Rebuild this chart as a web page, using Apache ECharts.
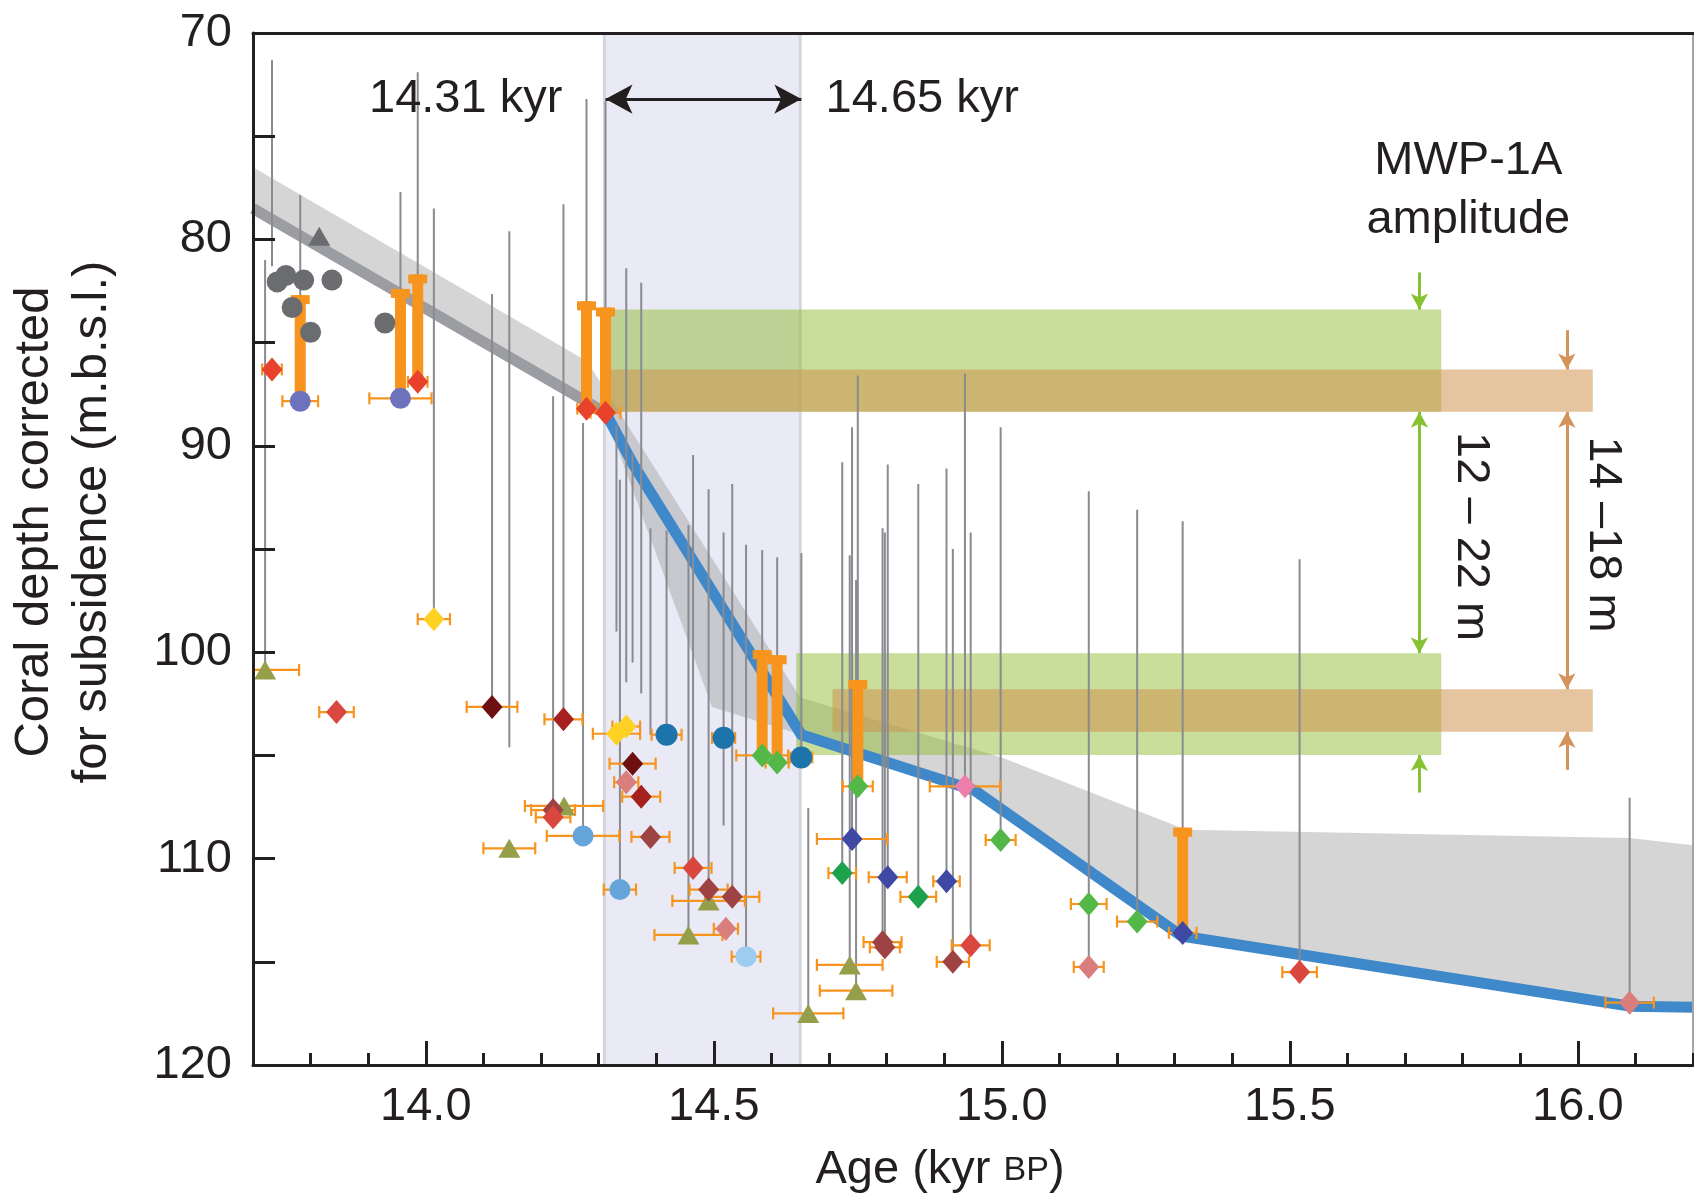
<!DOCTYPE html>
<html>
<head>
<meta charset="utf-8">
<script src="https://cdn.jsdelivr.net/npm/echarts@6/dist/echarts.min.js"></script>
<style>
  html, body { margin: 0; padding: 0; background: #fff; }
  #chart { width: 1694px; height: 1196px; }
</style>
</head>
<body>
<div id="chart"></div>
<script>
// ---- data (age in kyr BP, depth in m) ----
const xMajorTicks = [14.0, 14.5, 15.0, 15.5, 16.0];
const yTickLabels = [70, 80, 90, 100, 110, 120];

const shadeWindow = [[14.31, 14.65]];

// MWP-1A amplitude bands [x0, x1, yTop, yBottom]
const greenBands = [[14.32, 15.763, 83.4, 88.35], [14.643, 15.763, 100.05, 104.98]];
const tanBands = [[14.32, 16.026, 86.3, 88.35], [14.706, 16.026, 101.8, 103.85]];

// uncertainty envelope of the sea-level curve
const envelope = [
  [13.7, 76.5], [14.28, 85.9], [14.65, 102.2], [15.0, 105.1], [15.32, 108.6],
  [16.09, 109.0], [16.2, 109.35], [16.2, 117.2], [16.09, 117.15], [15.312, 113.75],
  [14.953, 106.7], [14.652, 104.0], [14.497, 102.65], [14.33, 89.9], [14.312, 88.4], [13.7, 78.5]
];
const grayCurve = [[13.7, 78.5], [14.312, 88.4]];
const blueCurve = [[14.312, 88.4], [14.36, 90.9], [14.652, 104.0], [14.953, 106.7],
  [15.312, 113.75], [16.09, 117.15], [16.2, 117.2]];

// palaeo water-depth ranges [x, yTop, yBottom]
const depthLines = [
  [13.721, 81.0, 100.86], [13.733, 71.3, 81.3], [13.782, 77.85, 87.84], [13.956, 77.7, 87.7],
  [13.986, 71.9, 86.9], [14.014, 78.5, 98.4], [14.115, 82.65, 102.65], [14.145, 79.6, 104.6],
  [14.221, 87.6, 107.65], [14.239, 78.3, 103.25], [14.273, 88.9, 108.9], [14.279, 73.2, 88.2],
  [14.312, 73.3, 88.4], [14.331, 89.0, 99.0], [14.337, 91.65, 111.5], [14.348, 81.4, 101.45],
  [14.359, 90.35, 100.5], [14.374, 82.1, 102.0], [14.39, 94.0, 104.0], [14.418, 94.1, 104.0],
  [14.456, 93.85, 113.7], [14.464, 90.45, 110.45], [14.491, 92.1, 111.5], [14.517, 94.2, 108.4],
  [14.532, 91.85, 111.85], [14.556, 94.8, 114.75], [14.584, 95.05, 105.0], [14.61, 95.4, 105.35],
  [14.652, 95.2, 105.1], [14.664, 107.55, 117.5], [14.723, 90.8, 110.7], [14.736, 95.3, 115.15],
  [14.74, 89.1, 109.05], [14.747, 96.5, 116.4], [14.75, 86.6, 106.5], [14.793, 94.0, 114.05],
  [14.797, 94.2, 114.3], [14.802, 90.9, 110.9], [14.855, 91.85, 111.85], [14.904, 91.1, 111.1],
  [14.915, 95.0, 115.0], [14.936, 86.5, 106.5], [14.946, 94.2, 114.2], [14.998, 89.1, 109.1],
  [15.151, 92.2, 115.25], [15.235, 93.1, 113.05], [15.314, 93.65, 113.6], [15.517, 95.5, 115.5],
  [16.09, 107.05, 116.98]
];

// orange depth-range bars [x, yTop, yBottom]
const rangeBars = [
  [13.782, 82.7, 87.84], [13.956, 82.4, 87.7], [13.986, 81.7, 86.9], [14.279, 83.0, 88.2],
  [14.312, 83.3, 88.4], [14.584, 99.9, 105.0], [14.61, 100.15, 105.35], [14.75, 101.35, 106.5],
  [15.314, 108.5, 113.6]
];

// samples [age, depth, age error]
const grayCircles = [[13.742, 82.06], [13.757, 81.75], [13.788, 81.97], [13.837, 81.97], [13.768, 83.3], [13.80, 84.5], [13.929, 84.05]];
const grayTriangles = [[13.815, 79.85]];
const periwinkleCircles = [[13.782, 87.84, 0.031], [13.956, 87.7, 0.054]];
const brightRedDiamonds = [[13.733, 86.3, 0.017], [13.986, 86.9, 0.017], [14.279, 88.2, 0.016], [14.312, 88.4, 0.026]];
const redDiamonds = [[13.845, 102.9, 0.03], [14.221, 108.0, 0.03], [14.464, 110.45, 0.032], [14.946, 114.2, 0.033], [15.517, 115.5, 0.03]];
const darkRedDiamonds = [[14.239, 103.25, 0.033], [14.374, 107.0, 0.033]];
const darkMaroonDiamonds = [[14.115, 102.65, 0.044], [14.359, 105.4, 0.04]];
const maroonDiamonds = [[14.221, 107.65, 0.038], [14.39, 108.95, 0.033], [14.491, 111.5, 0.033], [14.532, 111.85, 0.047], [14.793, 114.05, 0.033], [14.797, 114.3, 0.026], [14.915, 115.0, 0.028]];
const salmonDiamonds = [[14.348, 106.3, 0.021], [14.521, 113.4, 0.021], [15.151, 115.25, 0.026], [16.09, 116.98, 0.042]];
const pinkDiamonds = [[14.936, 106.5, 0.061]];
const yellowDiamonds = [[14.014, 98.4, 0.028], [14.331, 103.95, 0.041], [14.348, 103.6, 0.024]];
const oliveTriangles = [[13.721, 100.86, 0.059], [14.145, 109.5, 0.045], [14.24, 107.45, 0.068], [14.456, 113.7, 0.059], [14.491, 112.05, 0.063], [14.664, 117.5, 0.061], [14.736, 115.15, 0.057], [14.747, 116.4, 0.063]];
const lightBlueCircles = [[14.273, 108.9, 0.063], [14.337, 111.5, 0.028]];
const paleBlueCircles = [[14.556, 114.75, 0.025]];
const tealCircles = [[14.418, 104.0, 0.026], [14.517, 104.15, 0.02], [14.652, 105.1, 0.019]];
const greenDiamonds = [[14.584, 105.0, 0.045], [14.61, 105.35, 0.02], [14.75, 106.5, 0.026], [14.998, 109.1, 0.026], [15.151, 112.2, 0.031], [15.235, 113.05, 0.035]];
const darkGreenDiamonds = [[14.723, 110.7, 0.024], [14.855, 111.85, 0.031]];
const indigoDiamonds = [[14.74, 109.05, 0.061], [14.802, 110.9, 0.033], [14.904, 111.1, 0.023], [15.314, 113.6, 0.024]];

// ---- chart ----
const FONT = '"Liberation Sans", Arial, Helvetica, sans-serif';
const INK = '#231f20';
const ORANGE = '#f7941e';

const errorBars = [
  periwinkleCircles, brightRedDiamonds, redDiamonds, darkRedDiamonds, darkMaroonDiamonds,
  maroonDiamonds, salmonDiamonds, pinkDiamonds, yellowDiamonds, oliveTriangles,
  lightBlueCircles, paleBlueCircles, tealCircles, greenDiamonds, darkGreenDiamonds, indigoDiamonds
].flat();

const minorTicks = [];
for (let i = 137; i <= 162; i++) minorTicks.push(i / 10);

function rectItem(fill) {
  return function (params, api) {
    const a = api.coord([api.value(0), api.value(2)]);
    const b = api.coord([api.value(1), api.value(3)]);
    return { type: 'rect', shape: { x: a[0], y: a[1], width: b[0] - a[0], height: b[1] - a[1] }, style: { fill: fill } };
  };
}

function markerSeries(data, symbol, size, color) {
  return {
    type: 'scatter', data: data, symbol: symbol, symbolSize: size, z: 9,
    encode: { x: 0, y: 1 }, itemStyle: { color: color, opacity: 1 }, silent: true
  };
}

const chart = echarts.init(document.getElementById('chart'), null, { renderer: 'canvas' });

const option = {
  animation: false,
  backgroundColor: '#ffffff',
  textStyle: { fontFamily: FONT },
  grid: { left: 253, right: 1, top: 33, bottom: 131, containLabel: false, outerBoundsMode: 'none' },
  xAxis: [
    {
      type: 'value', min: 13.7, max: 16.2, position: 'bottom', z: 10,
      axisLine: { show: true, lineStyle: { color: INK, width: 3 } },
      axisTick: { show: true, inside: true, length: 24, customValues: xMajorTicks, lineStyle: { color: INK, width: 3 } },
      axisLabel: { customValues: xMajorTicks, formatter: v => v.toFixed(1), fontSize: 47, color: INK, fontFamily: FONT, margin: 19 },
      splitLine: { show: false },
      name: 'Age (kyr {sc|BP})', nameLocation: 'middle', nameGap: 82,
      nameTextStyle: {
        fontSize: 47, color: INK, fontFamily: FONT, padding: [0, 66, 0, 0],
        rich: { sc: { fontSize: 34, color: INK, fontFamily: FONT } }
      }
    },
    {
      type: 'value', min: 13.7, max: 16.2, position: 'bottom', z: 10,
      axisLine: { show: false },
      axisTick: { show: true, inside: true, length: 12, customValues: minorTicks, lineStyle: { color: INK, width: 3 } },
      axisLabel: { show: false }, splitLine: { show: false }
    },
    {
      type: 'value', min: 13.7, max: 16.2, position: 'top', z: 10,
      axisLine: { show: true, lineStyle: { color: INK, width: 3 } },
      axisTick: { show: false }, axisLabel: { show: false }, splitLine: { show: false }
    }
  ],
  yAxis: [
    {
      type: 'value', min: 70, max: 120, interval: 5, inverse: true, z: 10,
      axisLine: { show: true, lineStyle: { color: INK, width: 3 } },
      axisTick: { show: true, inside: true, length: 22, lineStyle: { color: INK, width: 3 } },
      axisLabel: { formatter: v => (yTickLabels.indexOf(v) >= 0 ? String(v) : ''), fontSize: 47, color: INK, fontFamily: FONT, margin: 21 },
      splitLine: { show: false },
      name: 'Coral depth corrected\nfor subsidence (m.b.s.l.)', nameLocation: 'middle', nameRotate: 90, nameGap: 132,
      nameTextStyle: { fontSize: 49, lineHeight: 58, color: INK, fontFamily: FONT, padding: [0, 0, 0, 54] }
    },
    {
      type: 'value', min: 70, max: 120, inverse: true, position: 'right', z: 10,
      axisLine: { show: true, lineStyle: { color: '#a5a5a5', width: 2 } },
      axisTick: { show: false }, axisLabel: { show: false }, splitLine: { show: false }
    }
  ],
  series: [
    // shaded time window
    {
      type: 'custom', z: 1, silent: true, data: shadeWindow,
      renderItem: function (params, api) {
        const a = api.coord([api.value(0), 70]);
        const b = api.coord([api.value(1), 120]);
        return {
          type: 'group', children: [
            { type: 'rect', shape: { x: a[0], y: a[1], width: b[0] - a[0], height: b[1] - a[1] }, style: { fill: '#e9eaf5' } },
            { type: 'line', shape: { x1: a[0], y1: a[1], x2: a[0], y2: b[1] }, style: { stroke: '#d3d6dc', lineWidth: 3 } },
            { type: 'line', shape: { x1: b[0], y1: a[1], x2: b[0], y2: b[1] }, style: { stroke: '#d3d6dc', lineWidth: 3 } }
          ]
        };
      }
    },
    // envelope
    {
      type: 'custom', z: 2, silent: true, data: envelope,
      renderItem: function (params, api) {
        if (params.dataIndex !== 0) return null;
        return { type: 'polygon', shape: { points: envelope.map(p => api.coord(p)) }, style: { fill: 'rgba(150,150,150,0.4)' } };
      }
    },
    // amplitude bands
    { type: 'custom', z: 3, silent: true, data: greenBands, renderItem: rectItem('rgba(140,186,44,0.48)') },
    { type: 'custom', z: 3, silent: true, data: tanBands, renderItem: rectItem('rgba(207,147,81,0.55)') },
    // curves
    {
      type: 'line', z: 4, silent: true, data: grayCurve, symbol: 'none',
      lineStyle: { color: '#9b9da2', width: 11, cap: 'butt' }
    },
    {
      type: 'line', z: 4, silent: true, data: blueCurve, symbol: 'none',
      lineStyle: { color: '#3f89cb', width: 11, cap: 'butt', join: 'round' }
    },
    // depth ranges
    {
      type: 'custom', z: 5, silent: true, data: depthLines,
      renderItem: function (params, api) {
        const a = api.coord([api.value(0), api.value(1)]);
        const b = api.coord([api.value(0), api.value(2)]);
        return { type: 'line', shape: { x1: a[0], y1: a[1], x2: b[0], y2: b[1] }, style: { stroke: '#898b90', lineWidth: 2 } };
      }
    },
    {
      type: 'custom', z: 6, silent: true, data: rangeBars,
      renderItem: function (params, api) {
        const a = api.coord([api.value(0), api.value(1)]);
        const b = api.coord([api.value(0), api.value(2)]);
        return {
          type: 'group', children: [
            { type: 'rect', shape: { x: a[0] - 5.5, y: a[1], width: 11, height: b[1] - a[1] }, style: { fill: ORANGE } },
            { type: 'rect', shape: { x: a[0] - 9.5, y: a[1], width: 19, height: 9 }, style: { fill: ORANGE } }
          ]
        };
      }
    },
    // age error bars
    {
      type: 'custom', z: 7, silent: true, data: errorBars,
      renderItem: function (params, api) {
        const x = api.value(0), y = api.value(1), e = api.value(2);
        const left = params.coordSys.x;
        const a = api.coord([x - e, y]);
        const b = api.coord([x + e, y]);
        const st = { stroke: ORANGE, lineWidth: 2.2 };
        const kids = [{ type: 'line', shape: { x1: Math.max(a[0], left), y1: a[1], x2: b[0], y2: b[1] }, style: st }];
        if (a[0] >= left) kids.push({ type: 'line', shape: { x1: a[0], y1: a[1] - 6, x2: a[0], y2: a[1] + 6 }, style: st });
        kids.push({ type: 'line', shape: { x1: b[0], y1: b[1] - 6, x2: b[0], y2: b[1] + 6 }, style: st });
        return { type: 'group', children: kids };
      }
    },
    // samples
    markerSeries(grayCircles, 'circle', 21, '#6b6c70'),
    markerSeries(grayTriangles, 'triangle', [22, 19], '#6b6c70'),
    markerSeries(periwinkleCircles, 'circle', 21, '#6c73bc'),
    markerSeries(oliveTriangles, 'triangle', [22, 19], '#959e49'),
    markerSeries(yellowDiamonds, 'diamond', [21, 24], '#ffd124'),
    markerSeries(maroonDiamonds, 'diamond', [21, 24], '#9e4344'),
    markerSeries(redDiamonds, 'diamond', [21, 24], '#d9473f'),
    markerSeries(darkRedDiamonds, 'diamond', [21, 24], '#a5201f'),
    markerSeries(darkMaroonDiamonds, 'diamond', [21, 24], '#6e1010'),
    markerSeries(salmonDiamonds, 'diamond', [21, 24], '#d97d7d'),
    markerSeries(pinkDiamonds, 'diamond', [21, 24], '#ec7fab'),
    markerSeries(brightRedDiamonds, 'diamond', [21, 24], '#e8412c'),
    markerSeries(lightBlueCircles, 'circle', 21, '#66a5da'),
    markerSeries(paleBlueCircles, 'circle', 21, '#9ccdf0'),
    markerSeries(tealCircles, 'circle', 22, '#1c74aa'),
    markerSeries(greenDiamonds, 'diamond', [21, 24], '#53b848'),
    markerSeries(darkGreenDiamonds, 'diamond', [21, 24], '#1ea14d'),
    markerSeries(indigoDiamonds, 'diamond', [21, 24], '#3f48a3'),
    // arrows
    {
      type: 'line', z: 8, silent: true, data: [],
      markLine: {
        silent: true, label: { show: false }, animation: false,
        data: [
          [{ coord: [14.312, 73.2], symbol: 'arrow', symbolSize: [22, 27], lineStyle: { color: INK, width: 3, type: 'solid' } },
           { coord: [14.652, 73.2], symbol: 'arrow', symbolSize: [22, 27] }],
          [{ coord: [15.725, 81.6], symbol: 'none', lineStyle: { color: '#86c232', width: 3, type: 'solid' } },
           { coord: [15.725, 83.4], symbol: 'arrow', symbolSize: [13, 16] }],
          [{ coord: [15.725, 88.35], symbol: 'arrow', symbolSize: [13, 16], lineStyle: { color: '#86c232', width: 3, type: 'solid' } },
           { coord: [15.725, 100.05], symbol: 'arrow', symbolSize: [13, 16] }],
          [{ coord: [15.725, 106.8], symbol: 'none', lineStyle: { color: '#86c232', width: 3, type: 'solid' } },
           { coord: [15.725, 104.98], symbol: 'arrow', symbolSize: [13, 16] }],
          [{ coord: [15.981, 84.4], symbol: 'none', lineStyle: { color: '#d4935a', width: 3, type: 'solid' } },
           { coord: [15.981, 86.3], symbol: 'arrow', symbolSize: [13, 16] }],
          [{ coord: [15.981, 88.35], symbol: 'arrow', symbolSize: [13, 16], lineStyle: { color: '#d4935a', width: 3, type: 'solid' } },
           { coord: [15.981, 101.8], symbol: 'arrow', symbolSize: [13, 16] }],
          [{ coord: [15.981, 105.7], symbol: 'none', lineStyle: { color: '#d4935a', width: 3, type: 'solid' } },
           { coord: [15.981, 103.85], symbol: 'arrow', symbolSize: [13, 16] }]
        ]
      }
    },
    // annotations
    {
      type: 'scatter', z: 11, silent: true, symbolSize: 0,
      itemStyle: { opacity: 1 },
      label: { show: true, position: [0, 0], color: INK, opacity: 1, fontSize: 47, fontFamily: FONT, verticalAlign: 'middle' },
      data: [
        { value: [14.237, 73.2], label: { formatter: '14.31 kyr', align: 'right' } },
        { value: [14.694, 73.2], label: { formatter: '14.65 kyr', align: 'left' } },
        { value: [15.81, 77.65], label: { formatter: 'MWP-1A\namplitude', align: 'center', lineHeight: 59 } },
        { value: [15.814, 94.4], label: { formatter: '12 – 22 m', align: 'center', rotate: -90 } },
        { value: [16.044, 94.3], label: { formatter: '14 –18 m', align: 'center', rotate: -90 } }
      ]
    }
  ]
};

chart.setOption(option);
</script>
</body>
</html>
